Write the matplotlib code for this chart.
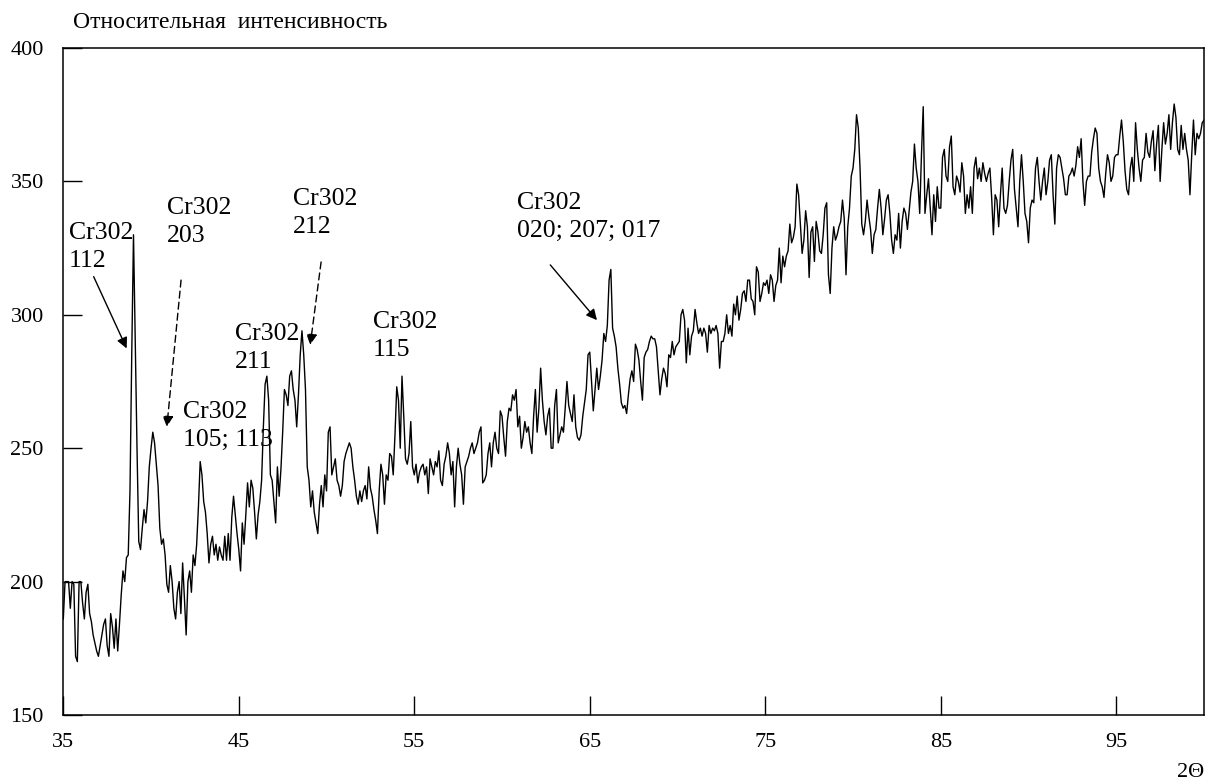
import numpy as np
import matplotlib
matplotlib.use("Agg")
import matplotlib.pyplot as plt

# ---- data (2Theta grid: 35.0 .. 100.0, step 0.1) ----
two_theta_start = 35.0
two_theta_step = 0.1

int_35_42 = [186, 200, 200, 200, 190, 200, 199, 172, 170, 200,
             200, 192, 186, 196, 199, 188, 185, 180, 177, 174,
             172, 176, 180, 184, 186, 176, 172, 188, 183, 175,
             186, 174, 184, 195, 204, 200, 209, 210, 234, 285,
             330, 290, 250, 215, 212, 220, 227, 222, 230, 243,
             250, 256, 252, 244, 236, 220, 214, 216, 210, 199,
             196, 206, 200, 190, 186, 196, 200, 188, 207, 194,
             180, 200, 204, 196, 210, 206, 214, 228, 245]
int_43_53 = [240, 230, 226, 218, 207, 214, 217, 210, 214, 208,
             213, 210, 208, 217, 208, 218, 208, 224, 232, 225,
             218, 212, 204, 222, 214, 225, 237, 228, 238, 235,
             226, 216, 225, 230, 238, 258, 274, 277, 268, 240,
             238, 230, 222, 243, 232, 242, 256, 272, 270, 266,
             277, 279, 272, 268, 258, 270, 285, 294, 285, 272,
             243, 238, 228, 234, 226, 222, 218, 229, 236, 228,
             240, 234, 256, 258, 240, 243, 246, 238, 236, 232,
             236, 245, 248, 250, 252, 250, 243, 238, 232, 229,
             234, 230, 234, 236, 231, 243, 235, 232, 227, 223,
             218, 234, 244]
int_53_63 = [240, 229, 240, 238, 248, 247, 240, 255, 273, 268,
             250, 277, 262, 246, 244, 248, 260, 243, 240, 244,
             237, 241, 243, 244, 240, 243, 233, 246, 243, 240,
             245, 243, 249, 238, 236, 244, 247, 252, 248, 240,
             245, 228, 243, 250, 244, 240, 229, 243, 245, 247,
             250, 252, 248, 250, 252, 256, 258, 237, 238, 240,
             248, 252, 243, 252, 256, 250, 248, 264, 262, 254,
             247, 260, 265, 264, 270, 268, 272, 258, 262, 250,
             254, 260, 256, 258, 252, 248, 262, 272, 256, 265,
             280, 268, 260, 255, 262, 265, 250, 250, 266, 272,
             252, 255]
int_63_74 = [258, 256, 265, 275, 266, 263, 260, 270, 258, 254,
             253, 255, 262, 267, 272, 285, 286, 275, 264, 272,
             280, 272, 277, 283, 293, 290, 296, 313, 317, 295,
             292, 288, 280, 274, 267, 265, 266, 263, 270, 276,
             279, 275, 289, 287, 283, 275, 268, 284, 286, 287,
             290, 292, 291, 291, 288, 279, 270, 276, 280, 278,
             273, 285, 284, 290, 285, 288, 289, 290, 300, 302,
             298, 282, 295, 285, 292, 294, 302, 297, 293, 295,
             292, 295, 293, 286, 296, 293, 295, 294, 296, 293,
             280, 290, 290, 293, 300, 293, 296, 292, 304, 300,
             307, 298, 302, 308, 309, 305, 313, 313, 306, 305,
             300, 318]
int_74_87 = [316, 305, 308, 312, 311, 313, 308, 315, 313, 305,
             311, 313, 325, 312, 322, 318, 322, 324, 334, 327,
             329, 333, 349, 345, 334, 323, 328, 339, 333, 314,
             331, 333, 320, 335, 331, 324, 323, 330, 340, 342,
             315, 308, 325, 333, 328, 330, 333, 335, 343, 336,
             315, 333, 340, 352, 355, 362, 375, 370, 355, 334,
             330, 335, 343, 337, 332, 323, 330, 332, 340, 347,
             340, 330, 336, 343, 345, 338, 328, 323, 330, 328,
             338, 325, 335, 340, 338, 332, 339, 346, 350, 364,
             355, 350, 338, 360, 378, 338, 345, 351, 340, 330,
             345, 335, 348, 340, 340, 359, 362, 352, 350, 363,
             367, 348, 345, 352, 350, 346, 357, 352, 338, 345,
             340, 348, 338, 355, 359, 351, 355]
int_87_100 = [350, 357, 353, 350, 353, 355, 344, 330, 345, 343,
              333, 345, 355, 340, 338, 341, 350, 358, 362, 347,
              340, 333, 350, 360, 350, 338, 335, 327, 340, 343,
              342, 355, 359, 350, 343, 350, 355, 345, 350, 358,
              360, 345, 334, 355, 360, 359, 355, 351, 345, 345,
              352, 353, 355, 352, 356, 363, 359, 366, 350, 341,
              350, 352, 352, 361, 366, 370, 368, 355, 350, 348,
              344, 353, 360, 357, 350, 352, 359, 360, 360, 367,
              373, 365, 354, 347, 345, 355, 359, 350, 372, 362,
              355, 350, 358, 359, 368, 361, 359, 365, 369, 354,
              364, 371, 350, 362, 372, 364, 368, 375, 362, 372,
              379, 374, 362, 360, 371, 362, 368, 362, 358, 345,
              360, 373, 360, 368, 366, 368, 372, 373]

intensity = np.array(int_35_42 + int_43_53 + int_53_63 + int_63_74 + int_74_87 + int_87_100, dtype=float)
two_theta = two_theta_start + two_theta_step * np.arange(len(intensity))

x_ticks = [35, 45, 55, 65, 75, 85, 95]
y_ticks = [150, 200, 250, 300, 350, 400]

# peak labels: (text, x, y of last-line baseline) ; arrows: (x_from, y_from, x_to, y_to, dashed)
peak_labels = [
    ("Cr302\n112", 35.32, 317.9),
    ("Cr302\n203", 40.90, 327.4),
    ("Cr302\n105; 113", 41.84, 251.0),
    ("Cr302\n211", 44.79, 280.1),
    ("Cr302\n212", 48.11, 330.5),
    ("Cr302\n115", 52.65, 284.6),
    ("Cr302\n020; 207; 017", 60.87, 329.3),
]
peak_arrows = [
    (36.73, 314.3, 38.61, 287.4, False),
    (41.71, 313.0, 40.90, 258.0, True),
    (49.69, 319.8, 49.07, 288.7, True),
    (62.75, 318.7, 65.41, 298.0, False),
]

# ---- plot ----
plt.rcParams['font.family'] = ['Liberation Serif', 'DejaVu Serif']
fig = plt.figure(figsize=(12.12, 7.8), dpi=100)
ax = fig.add_axes([63.3 / 1212, 65 / 780, (1204 - 63.3) / 1212, (715 - 48) / 780])

ax.plot(two_theta, intensity, color='black', lw=1.0)
ax.set_xlim(35, 100)
ax.set_ylim(150, 400)
ax.set_xticks(x_ticks)
ax.set_yticks(y_ticks)
ax.tick_params(axis='both', direction='in', length=14, width=1.0, labelsize=16,
               top=False, right=False)
ax.tick_params(axis='x', pad=13)
ax.tick_params(axis='y', pad=14)
for s in ax.spines.values():
    s.set_linewidth(1.1)
    s.set_color('black')

for txt, x, y in peak_labels:
    ax.text(x, y, txt, fontsize=18.5, ha='left', va='baseline', linespacing=1.35)

for x0, y0, x1, y1, dashed in peak_arrows:
    ax.annotate("", xy=(x1, y1), xytext=(x0, y0),
                arrowprops=dict(arrowstyle='-|>', color='black', lw=1.0,
                                linestyle=(0, (5, 3)) if dashed else '-',
                                mutation_scale=16, shrinkA=0, shrinkB=0))

fig.text(73 / 1212, 1 - 28 / 780, "Относительная  интенсивность", fontsize=17,
         ha='left', va='baseline')
fig.text(1204 / 1212, 3 / 780, "2Θ", fontsize=16, ha='right', va='baseline')

fig.savefig("out.png", dpi=100)
